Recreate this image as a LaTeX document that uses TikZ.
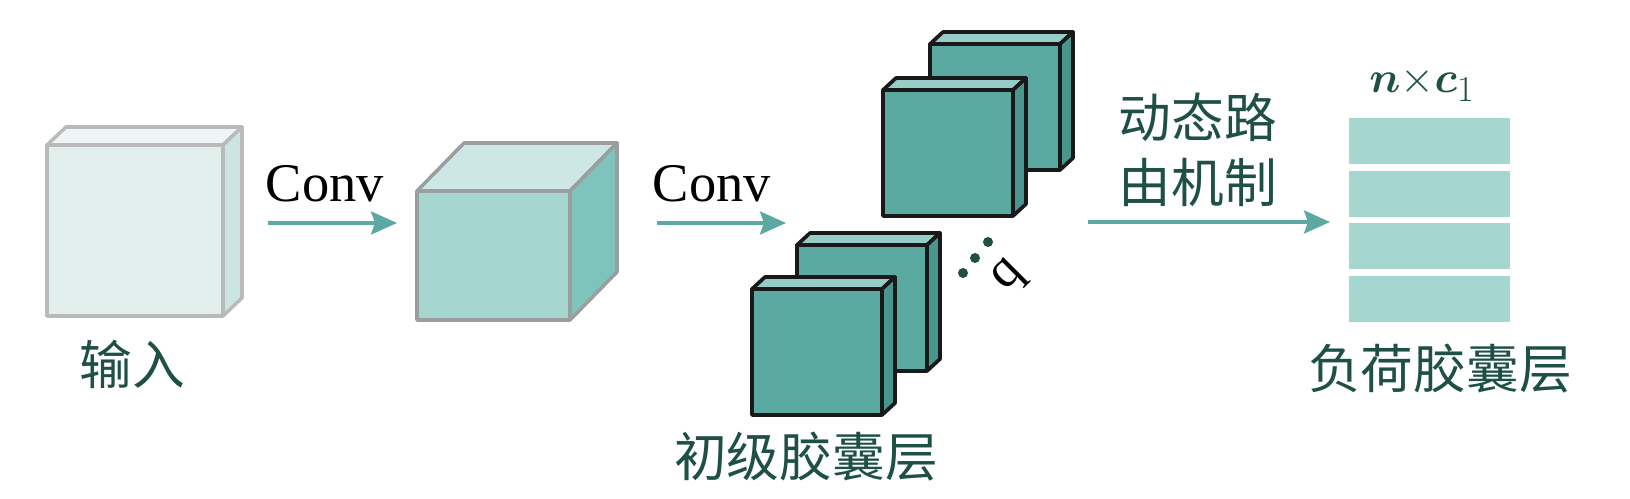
\documentclass[tikz,border=0pt]{standalone}
\usepackage{amsmath}
\usepackage{fontspec}
\setmainfont{Liberation Serif}
\newfontfamily\cjk{Noto Sans CJK SC}
\usetikzlibrary{arrows.meta}

\definecolor{fleur}{RGB}{91,169,161}
\definecolor{encre}{RGB}{30,80,70}
\definecolor{gris}{RGB}{155,158,158}

\begin{document}
\begin{tikzpicture}[x=0.02cm, y=-0.02cm]
\tikzset{fleche/.style={draw=fleur, line width=2pt, -{Stealth[length=0.52cm, width=0.46cm, inset=0.08cm]}},
  etiq/.style={font=\cjk\fontsize{30}{37}\selectfont, text=encre, inner sep=0pt},
  conv/.style={font=\fontsize{31}{31}\selectfont, inner sep=0pt, anchor=base},
  capface/.style={draw=black!90, line width=2.1pt, line join=round, fill={rgb,255:red,90;green,170;blue,162}},
  captop/.style={capface, fill={rgb,255:red,150;green,205;blue,198}},
  capside/.style={capface, fill={rgb,255:red,72;green,150;blue,141}},
  barre/.style={fill={rgb,255:red,166;green,214;blue,208}}}
\useasboundingbox (0,0) rectangle (1630,499);
\filldraw[draw=gris!70, line width=2pt, line join=round, fill={rgb,255:red,238;green,245;blue,244}] (47,145) -- ++(19,-18) -- ++(176,0) -- ++(-19,18) -- cycle;
\filldraw[draw=gris!70, line width=2pt, line join=round, fill={rgb,255:red,205;green,229;blue,226}] (223,316) -- ++(19,-18) -- ++(0,-171) -- ++(-19,18) -- cycle;
\filldraw[draw=gris!70, line width=2pt, line join=round, fill={rgb,255:red,226;green,239;blue,237}] (47,316) rectangle (223,145);
\filldraw[draw=gris, line width=2pt, line join=round, fill={rgb,255:red,205;green,232;blue,228}] (417,191) -- ++(47,-48) -- ++(153,0) -- ++(-47,48) -- cycle;
\filldraw[draw=gris, line width=2pt, line join=round, fill={rgb,255:red,126;green,196;blue,187}] (570,320) -- ++(47,-48) -- ++(0,-129) -- ++(-47,48) -- cycle;
\filldraw[draw=gris, line width=2pt, line join=round, fill={rgb,255:red,166;green,214;blue,208}] (417,320) rectangle (570,191);
\foreach \x/\y in {930/170, 883/216, 797/371, 752/415} {
  \filldraw[captop] (\x,\y-126) -- ++(13,-12) -- ++(130,0) -- ++(-13,12) -- cycle;
  \filldraw[capside] (\x+130,\y) -- ++(13,-12) -- ++(0,-126) -- ++(-13,12) -- cycle;
  \filldraw[capface] (\x,\y) rectangle ++(130,-126);
}
\foreach \i in {0,...,3}
  \fill[barre] (1349,118+52.7*\i) rectangle (1510,164+52.7*\i);
\fill[encre] (963,273) circle (5) (975,258) circle (5) (988,242) circle (5);
\node[rotate=45, font=\fontsize{30}{30}\selectfont, inner sep=0pt] (q) at (1010,277) {q};
\node[etiq] (entree) at (132,364) {输入};
\node[etiq] (primaire) at (806,457) {初级胶囊层};
\node[etiq] (charge) at (1440,369) {负荷胶囊层};
\node[etiq, align=center] (routage) at (1198,150) {动态路\\由机制};
\node[conv] (conv1) at (325,202) {Conv};
\node[conv] (conv2) at (712,202) {Conv};
\node[anchor=base, text=encre, inner sep=0pt, font=\fontsize{31}{31}\selectfont] (dim) at (1422,93) {$\boldsymbol{n}{\times}\boldsymbol{c}_1$};
\coordinate (d1) at (268,223);
\coordinate (f1) at (397,223);
\coordinate (d2) at (657,223);
\coordinate (f2) at (786,223);
\coordinate (d3) at (1088,222);
\coordinate (f3) at (1330,222);
\draw[fleche] (d1) -- (f1);
\draw[fleche] (d2) -- (f2);
\draw[fleche] (d3) -- (f3);
\end{tikzpicture}
\end{document}
